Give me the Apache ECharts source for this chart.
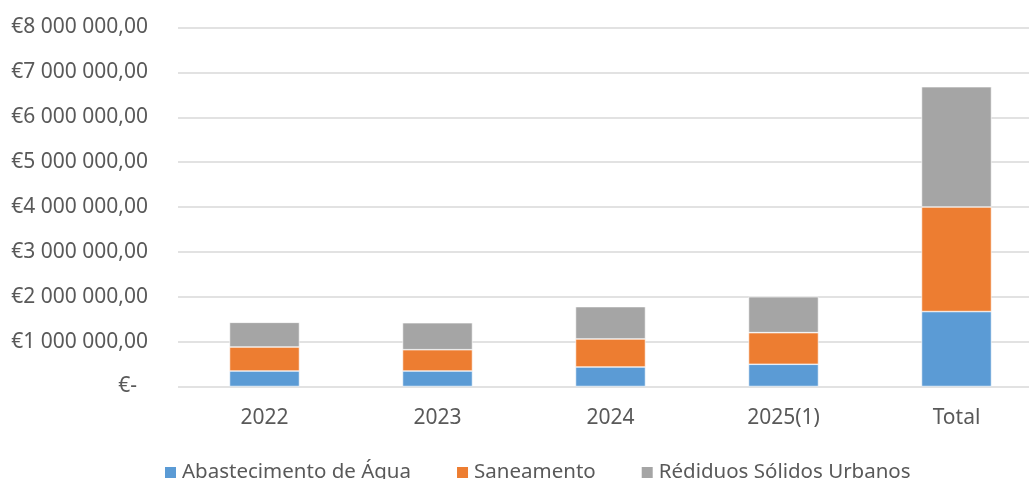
<!DOCTYPE html>
<html>
<head>
<meta charset="utf-8">
<script src="https://cdn.jsdelivr.net/npm/echarts@6/dist/echarts.min.js"></script>
<style>
  html, body { margin: 0; padding: 0; background: #fff; }
  #chart { width: 1029px; height: 479px; }
</style>
</head>
<body>
<div id="chart"></div>
<script>
const categories = ['2022', '2023', '2024', '2025(1)', 'Total'];
const abastecimento = [345000, 345000, 435000, 495000, 1670000];
const saneamento = [535000, 475000, 625000, 705000, 2330000];
const residuos = [550000, 600000, 720000, 800000, 2680000];
const seriesNames = ['Abastecimento de Água', 'Saneamento', 'Rédiduos Sólidos Urbanos'];
const colors = ['#5B9BD5', '#ED7D31', '#A5A5A5'];

const FONT = 'Noto Sans';
const TEXT = '#595959';

// formato contabilístico: €8 000 000,00 / €-
const formatEuro = (v) => {
  if (v === 0) return '€-  ';
  const s = Math.round(v).toString().replace(/\B(?=(\d{3})+(?!\d))/g, ' ');
  return `€${s},00`;
};

const chart = echarts.init(document.getElementById('chart'));
const mkSeries = (name, data, i) => ({
  name,
  type: 'bar',
  stack: 'total',
  data,
  barWidth: 70,
  itemStyle: { color: colors[i], borderColor: '#ffffff', borderWidth: 0.6 },
  emphasis: { disabled: true }
});

chart.setOption({
  animation: false,
  color: colors,
  grid: { left: 178, width: 865, top: 27.5, bottom: 92.5, outerBoundsMode: 'none', containLabel: false },
  legend: {
    bottom: -9,
    left: 158,
    itemWidth: 13,
    itemHeight: 13,
    itemGap: 44,
    icon: 'rect',
    textStyle: { fontFamily: FONT, fontSize: 20.5, color: TEXT },
    data: seriesNames
  },
  xAxis: {
    type: 'category',
    data: categories,
    axisLine: { show: false },
    axisTick: { show: false },
    axisLabel: { fontFamily: FONT, fontSize: 21, color: TEXT, margin: 21 }
  },
  yAxis: {
    type: 'value',
    min: 0,
    max: 8000000,
    interval: 1000000,
    axisLine: { show: false },
    axisTick: { show: false },
    splitLine: { lineStyle: { color: '#D9D9D9', width: 1.5 } },
    axisLabel: { fontFamily: FONT, fontSize: 21, color: TEXT, margin: 30, formatter: formatEuro }
  },
  series: [
    mkSeries(seriesNames[0], abastecimento, 0),
    mkSeries(seriesNames[1], saneamento, 1),
    mkSeries(seriesNames[2], residuos, 2)
  ]
});
</script>
</body>
</html>
